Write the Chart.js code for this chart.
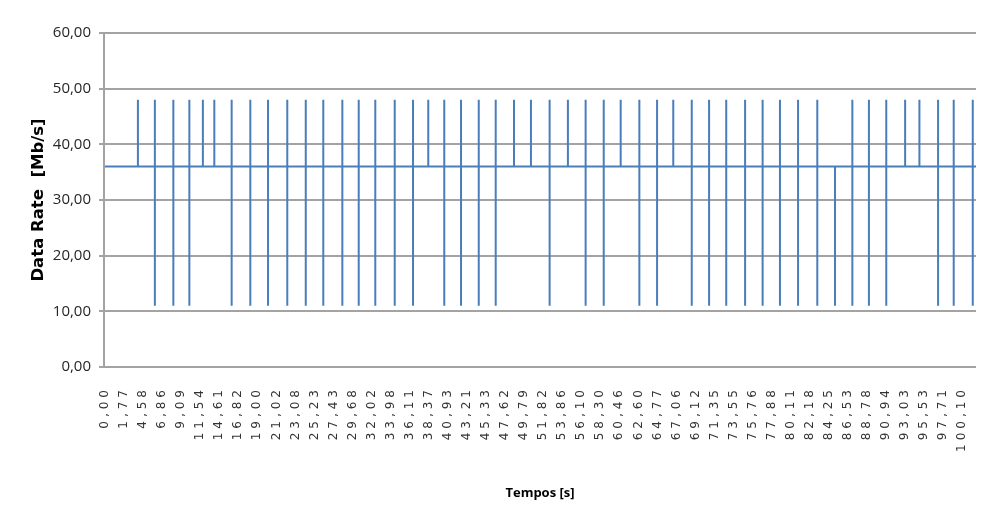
<!DOCTYPE html>
<html>
<head>
<meta charset="utf-8">
<script src="https://cdn.jsdelivr.net/npm/chart.js@4.4.1/dist/chart.umd.min.js"></script>
<style>
  html, body { margin: 0; padding: 0; background: #ffffff; }
  #wrap { width: 981px; height: 531px; position: relative; }
</style>
</head>
<body>
<div id="wrap"><canvas id="rateChart"></canvas></div>
<script>
// Time stamps printed under the axis, one per label slot (s)
const timeLabels = ['0,00','1,77','4,58','6,86','9,09','11,54','14,61','16,82','19,00','21,02',
  '23,08','25,23','27,43','29,68','32,02','33,98','36,11','38,37','40,93','43,21',
  '45,33','47,62','49,79','51,82','53,86','56,10','58,30','60,46','62,60','64,77',
  '67,06','69,12','71,35','73,55','75,76','77,88','80,11','82,18','84,25','86,53',
  '88,78','90,94','93,03','95,53','97,71','100,10'];

// Steady data rate between bursts (Mb/s)
const baseRate = 36;
// Sample position of the last recorded sample, in label slots
const lastSample = 45.72;

// Bursts: position (label slots), peak rate and drop rate (Mb/s, null = none)
const burstPos = [1.73, 2.62, 3.59, 4.43, 5.14, 5.74, 6.65, 7.63, 8.56, 9.57,
  10.54, 11.46, 12.46, 13.32, 14.19, 15.21, 16.17, 16.97, 17.81, 18.69,
  19.62, 20.51, 21.47, 22.36, 23.34, 24.30, 25.23, 26.18, 27.07, 28.05,
  28.98, 29.83, 30.80, 31.71, 32.61, 33.60, 34.52, 35.43, 36.38, 37.39,
  38.32, 39.23, 40.10, 41.01, 42.00, 42.75, 43.73, 44.55, 45.55];
const burstHigh = [48, 48, 48, 48, 48, 48, 48, 48, 48, 48,
  48, 48, 48, 48, 48, 48, 48, 48, 48, 48,
  48, 48, 48, 48, 48, 48, 48, 48, 48, 48,
  48, 48, 48, 48, 48, 48, 48, 48, 48, 48,
  null, 48, 48, 48, 48, 48, 48, 48, 48];
const burstLow = [null, 11, 11, 11, null, null, 11, 11, 11, 11,
  11, 11, 11, 11, 11, 11, 11, null, 11, 11,
  11, 11, null, null, 11, null, 11, 11, null, 11,
  11, null, 11, 11, 11, 11, 11, 11, 11, 11,
  11, 11, 11, 11, null, null, 11, 11, 11];

const yTicks = [0, 10, 20, 30, 40, 50, 60];

// Build the trace: flat at the base rate, jumping to the peak/drop at each burst
const trace = [{ x: 0, y: baseRate }];
burstPos.forEach((p, i) => {
  trace.push({ x: p, y: baseRate });
  if (burstHigh[i] !== null) trace.push({ x: p, y: burstHigh[i] });
  if (burstLow[i] !== null) trace.push({ x: p, y: burstLow[i] });
  trace.push({ x: p, y: baseRate });
});
trace.push({ x: lastSample, y: baseRate });

const comma = v => v.toFixed(2).replace('.', ',');

// Widen the spacing of the rotated time labels
const spacedTimeLabels = {
  id: 'spacedTimeLabels',
  beforeDraw(chart) {
    const sc = chart.scales.x;
    if (sc && !sc._spaced) {
      const orig = sc.drawLabels;
      sc.drawLabels = function (area) {
        this.ctx.save();
        this.ctx.letterSpacing = '4px';
        orig.call(this, area);
        this.ctx.restore();
      };
      sc._spaced = true;
    }
  }
};

new Chart(document.getElementById('rateChart'), {
  type: 'line',
  data: {
    datasets: [{
      data: trace,
      borderColor: '#4a7ebb',
      borderWidth: 2,
      pointRadius: 0,
      tension: 0,
      fill: false
    }]
  },
  options: {
    responsive: true,
    maintainAspectRatio: false,
    animation: false,
    events: [],
    layout: { padding: { top: 33, right: 5, bottom: 26, left: 25 } },
    plugins: { legend: { display: false }, tooltip: { enabled: false } },
    scales: {
      x: {
        type: 'linear',
        min: -0.05,
        max: lastSample,
        afterBuildTicks: axis => { axis.ticks = timeLabels.map((_, i) => ({ value: i })); },
        afterFit: axis => { axis.height = 138; axis.paddingLeft = 0; axis.paddingRight = 0; },
        grid: { display: false, drawTicks: false },
        border: { display: false },
        ticks: {
          autoSkip: false,
          maxRotation: 90,
          minRotation: 90,
          padding: 19,
          color: '#333333',
          font: { family: 'DejaVu Sans', size: 12 },
          callback: v => timeLabels[v]
        },
        title: {
          display: true,
          text: 'Tempos [s]',
          color: '#000000',
          font: { family: 'Open Sans', size: 13, weight: 'bold' },
          padding: { top: 0, bottom: 4 }
        }
      },
      y: {
        min: 0,
        max: 60,
        afterBuildTicks: axis => { axis.ticks = yTicks.map(v => ({ value: v })); },
        afterFit: axis => { axis.width = 79; },
        grid: { color: '#a3a3a3', lineWidth: 2, tickLength: 5, drawTicks: true },
        border: { display: true, color: '#a3a3a3', width: 2 },
        ticks: {
          padding: 8,
          color: '#262626',
          font: { family: 'Open Sans', size: 15 },
          callback: v => comma(v)
        },
        title: {
          display: true,
          text: 'Data Rate  [Mb/s]',
          color: '#000000',
          font: { family: 'DejaVu Sans', size: 16.5, weight: 'bold' },
          padding: { top: 4, bottom: 0 }
        }
      }
    }
  },
  plugins: [spacedTimeLabels]
});
</script>
</body>
</html>
